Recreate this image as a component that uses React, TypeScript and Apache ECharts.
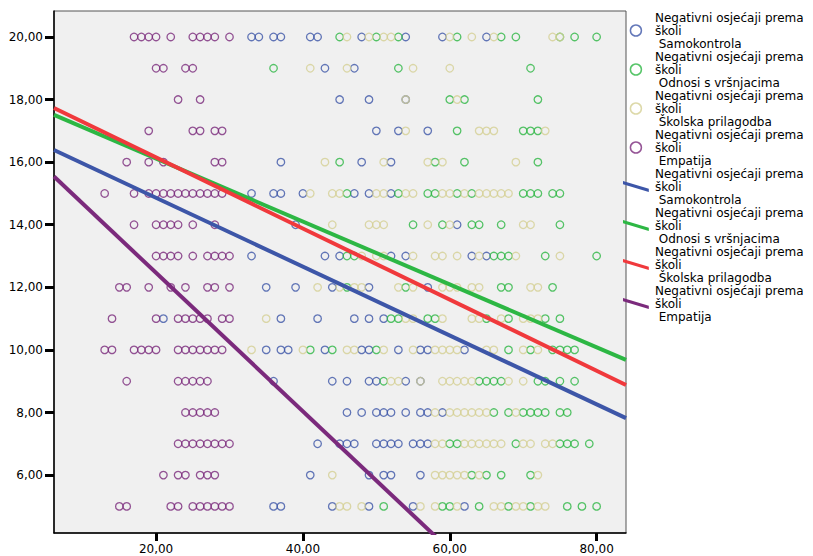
import { useEffect, useRef } from 'react';
import * as echarts from 'echarts';

// y levels (rows of the scatter), top to bottom
const yLevels = [20, 19, 18, 17, 16, 15, 14, 13, 12, 11, 10, 9, 8, 7, 6, 5];

// x values per row (aligned with yLevels)
const samokontrolaRows: number[][] = [
  [33, 34, 36, 37, 41, 42, 48, 54, 59, 65],
  [43, 47],
  [45, 49, 54],
  [50, 53, 57],
  [37, 48, 52],
  [33, 36, 37, 40, 47, 49, 52],
  [39, 61],
  [33, 43, 45, 52, 54, 63, 65],
  [35, 39, 44, 49, 57],
  [21, 37, 42, 47, 49, 51],
  [35, 37, 38, 43, 48, 49, 53, 56, 57, 62],
  [36, 44, 46, 49, 50, 54, 56],
  [46, 48, 50, 51, 52, 54, 56, 57, 59],
  [42, 45, 46, 47, 50, 51, 52, 53, 55, 56, 57],
  [41, 49, 51, 52, 56],
  [36, 37, 44, 49, 55, 62],
];

const odnosiRows: number[][] = [
  [45, 50, 53, 61, 67, 69, 75, 77, 80],
  [36, 53, 71],
  [60, 62, 72],
  [61, 70, 71, 72],
  [45, 58, 62, 72],
  [46, 53, 57, 58, 61, 63, 70, 71, 72, 74, 75],
  [55, 59, 63, 64, 67, 75],
  [46, 47, 66, 67, 68, 73, 80],
  [46, 54, 67, 68, 74],
  [52, 53, 57, 58, 65, 68, 73, 75],
  [41, 44, 50, 68, 71, 74, 75, 76, 77],
  [51, 64, 65, 66, 67, 72, 73, 75, 77],
  [66, 68, 70, 71, 72, 73, 75, 76],
  [60, 61, 69, 75, 76, 77, 79],
  [63, 65, 67, 71],
  [51, 59, 60, 64, 68, 71, 76, 78, 80],
];

const prilagodbaRows: number[][] = [
  [46, 49, 51, 52, 60, 63, 66, 74, 75],
  [41, 46, 55, 60],
  [54, 61],
  [54, 64, 65, 66, 73],
  [43, 51, 57, 59, 69],
  [41, 44, 45, 50, 51, 54, 55, 59, 60, 62, 64, 65, 66, 67, 68],
  [44, 49, 50, 51, 57, 60, 70, 71],
  [48, 50, 51, 55, 58, 59, 61, 64, 69, 75],
  [42, 45, 47, 48, 53, 55, 59, 60, 61, 63, 64, 71, 72],
  [35, 54, 55, 59, 63, 64, 67, 70, 71, 72],
  [33, 40, 46, 47, 51, 55, 58, 59, 60, 61, 65, 66, 70, 72],
  [52, 53, 56, 59, 60, 61, 62, 63, 68, 70],
  [58, 60, 61, 62, 63, 64, 65, 69],
  [58, 59, 62, 63, 64, 65, 66, 67, 70, 71, 73, 74],
  [44, 58, 59, 60, 61, 62, 64, 72],
  [45, 46, 48, 56, 58, 61, 66, 67, 69, 70, 72, 73],
];

const empatijaRows: number[][] = [
  [17, 18, 19, 20, 22, 25, 26, 27, 28, 30],
  [20, 21, 24, 25],
  [23, 26],
  [19, 25, 26, 28, 29],
  [16, 19, 21, 28, 29],
  [13, 17, 19, 20, 21, 22, 23, 24, 25, 26, 27, 28, 29],
  [17, 20, 21, 22, 23, 25, 28],
  [20, 21, 22, 23, 25, 27, 28, 29, 30],
  [15, 16, 19, 22, 24, 27, 28, 30],
  [14, 20, 23, 24, 25, 26, 27, 29, 30],
  [13, 14, 17, 18, 19, 20, 23, 24, 25, 26, 27, 28, 29],
  [16, 23, 24, 25, 26, 27],
  [24, 25, 26, 27, 28],
  [23, 24, 25, 26, 27, 28, 29, 30],
  [21, 23, 24, 26, 27, 28],
  [15, 16, 22, 23, 25, 26, 27, 28, 29, 30],
];

// fit lines: [x, y] end points
const fitSamokontrola = [[6.1, 16.39], [84, 7.82]];
const fitOdnosi = [[6.1, 17.51], [84, 9.68]];
const fitPrilagodba = [[6.1, 17.73], [84, 8.88]];
const fitEmpatija = [[6.1, 15.54], [84, -1.7]];

const xTicks = [20, 40, 60, 80];
const yTicks = [6, 8, 10, 12, 14, 16, 18, 20];

const legendPrefix = 'Negativni osjećaji prema\nškoli\n ';
const scatterNames = ['Samokontrola', 'Odnosi s vršnjacima', 'Školska prilagodba', 'Empatija'];
const fitSuffix = ' (pravac)';

const scatterColors = ['#3d56a8', '#2db744', '#d4cf94', '#7b2a7c'];
const lineColors = ['#3d56a8', '#2db744', '#f0393c', '#7b2a7c'];

const FONT = 'DejaVu Sans';

const toPoints = (rows: number[][]) =>
  rows.flatMap((xs, i) => xs.map((x) => [x, yLevels[i]]));

const fmt = (v: number) => v.toFixed(2).replace('.', ',');

export default function App() {
  const ref = useRef<HTMLDivElement>(null);

  useEffect(() => {
    document.body.style.margin = '0';
    if (!ref.current) return;
    const chart = echarts.init(ref.current, undefined, { renderer: 'svg' });

    const scatterRows = [samokontrolaRows, odnosiRows, prilagodbaRows, empatijaRows];
    const fits = [fitSamokontrola, fitOdnosi, fitPrilagodba, fitEmpatija];
    const linePath = 'path://M0,0L27,8L27,11.5L0,3.5Z';

    const scatterSeries = scatterNames.map((name, i) => ({
      name,
      type: 'scatter',
      symbol: 'circle',
      symbolSize: 7.5,
      data: toPoints(scatterRows[i]),
      itemStyle: { color: 'rgba(0,0,0,0)', borderColor: scatterColors[i], borderWidth: 1.3 },
      emphasis: { disabled: true },
      z: 2,
    }));

    const lineSeries = scatterNames.map((name, i) => ({
      name: name + fitSuffix,
      type: 'line',
      data: fits[i],
      symbol: 'none',
      showSymbol: false,
      clip: true,
      color: lineColors[i],
      itemStyle: { color: lineColors[i] },
      lineStyle: { color: lineColors[i], width: 4 },
      emphasis: { disabled: true },
      z: 3,
    }));

    const legendData = [
      ...scatterNames.map((name, i) => ({
        name,
        icon: 'circle',
        itemStyle: { color: 'rgba(0,0,0,0)', borderColor: scatterColors[i], borderWidth: 1.5 },
      })),
      ...scatterNames.map((name, i) => ({
        name: name + fitSuffix,
        icon: linePath,
        itemStyle: { color: lineColors[i], borderWidth: 0 },
      })),
    ];

    const axisCommon = {
      type: 'value' as const,
      splitLine: { show: false },
      axisLine: { show: true, onZero: false, lineStyle: { color: '#000', width: 1.5 } },
    };

    chart.setOption({
      animation: false,
      backgroundColor: '#ffffff',
      textStyle: { fontFamily: FONT },
      grid: {
        left: 54,
        top: 11,
        right: 187,
        bottom: 23,
        show: true,
        backgroundColor: '#f0f0f0',
        borderColor: '#555',
        borderWidth: 1,
      },
      xAxis: {
        ...axisCommon,
        min: 6.1,
        max: 84,
        axisTick: { show: true, length: 8, lineStyle: { color: '#000', width: 3 }, customValues: xTicks },
        axisLabel: {
          customValues: xTicks,
          formatter: fmt,
          margin: 10,
          color: '#000',
          fontSize: 12,
          fontFamily: FONT,
        },
      },
      yAxis: {
        ...axisCommon,
        min: 4.15,
        max: 20.83,
        axisTick: { show: true, length: 9, lineStyle: { color: '#000', width: 3 }, customValues: yTicks },
        axisLabel: {
          customValues: yTicks,
          formatter: fmt,
          margin: 11,
          color: '#000',
          fontSize: 12,
          fontFamily: FONT,
        },
      },
      legend: {
        orient: 'vertical',
        left: 618,
        top: 6,
        itemWidth: 28,
        itemHeight: 11,
        itemGap: 0,
        selectedMode: false,
        data: legendData,
        formatter: (name: string) => legendPrefix + name.replace(fitSuffix, ''),
        textStyle: { fontSize: 12, lineHeight: 13, color: '#000', fontFamily: FONT },
      },
      series: [...scatterSeries, ...lineSeries],
    });

    return () => chart.dispose();
  }, []);

  return <div ref={ref} style={{ width: 813, height: 556 }} />;
}
